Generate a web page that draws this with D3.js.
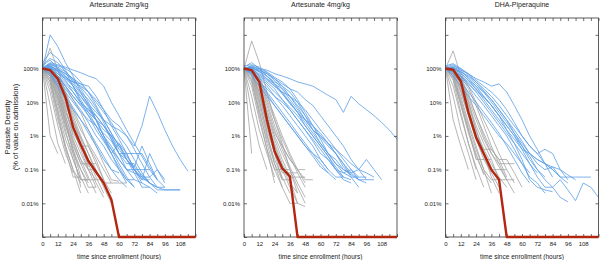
<!DOCTYPE html>
<html>
<head>
<meta charset="utf-8">
<script src="https://cdn.jsdelivr.net/npm/d3@7"></script>
<style>
  body { margin: 0; background: #fff; }
  text { font-family: "Liberation Sans", Arial, sans-serif; fill: #222; }
</style>
</head>
<body>
<svg id="chart" width="600" height="260"></svg>
<script>
// sampling times (hours since enrollment), one value per time in every series
const hours = [0, 6, 12, 18, 24, 30, 36, 42, 48, 54, 60, 66, 72, 78, 84, 90, 96, 102, 108, 114, 120];
const xTicks = [0, 6, 12, 18, 24, 30, 36, 42, 48, 54, 60, 66, 72, 78, 84, 90, 96, 102, 108, 114, 120];
const xTickLabels = [0, 12, 24, 36, 48, 60, 72, 84, 96, 108];
const yTicks = [0.001, 0.01, 0.1, 1, 10, 100, 1000];
const yTickLabels = { 100: "100%", 10: "10%", 1: "1%", 0.1: "0.1%", 0.01: "0.01%" };
const panelTitles = ["Artesunate 2mg/kg", "Artesunate 4mg/kg", "DHA-Piperaquine"];

// % of admission value; 0 = below detection (drawn on the bottom edge)
const median2mg = [100, 90, 50, 14, 1.8, 0.55, 0.18, 0.085, 0.04, 0.013, 0, 0, 0, 0, 0, 0, 0, 0, 0, 0, 0];
const median4mg = [100, 90, 40, 3, 0.35, 0.11, 0.063, 0, 0, 0, 0, 0, 0, 0, 0, 0, 0, 0, 0, 0, 0];
const medianDHA = [100, 92, 42, 5, 0.9, 0.3, 0.1, 0.05, 0, 0, 0, 0, 0, 0, 0, 0, 0, 0, 0, 0, 0];

const gray2mg = [
  [100, 1, 0.3],
  [100, 8, 0.6, 0.15],
  [100, 20, 2, 0.3, 0.08],
  [100, 30, 3, 0.5, 0.1, 0.04],
  [100, 40, 6, 0.8, 0.2, 0.05, 0.05],
  [100, 50, 8, 1.2, 0.3, 0.1, 0.04],
  [100, 60, 10, 2, 0.4, 0.1, 0.03, 0.03],
  [100, 70, 15, 3, 0.6, 0.15, 0.05],
  [100, 80, 20, 4, 0.8, 0.2, 0.06, 0.02],
  [100, 60, 12, 1.5, 0.2, 0.05, 0.05, 0.05],
  [100, 90, 30, 6, 1, 0.3, 0.1, 0.03],
  [100, 85, 25, 5, 1.5, 0.4, 0.1, 0.05, 0.05],
  [100, 95, 40, 10, 2, 0.5, 0.15, 0.04, 0.015],
  [100, 90, 35, 8, 2.5, 0.8, 0.2, 0.06, 0.02],
  [100, 100, 50, 15, 4, 1, 0.3, 0.1, 0.03, 0.01],
  [100, 70, 30, 4, 0.7, 0.2, 0.1, 0.1],
  [100, 50, 5, 0.5, 0.1, 0.02],
  [100, 40, 4, 0.4, 0.06, 0.06],
  [100, 75, 18, 2.5, 0.5, 0.15, 0.15, 0.15],
  [100, 95, 45, 12, 3, 0.9, 0.3, 0.08, 0.04, 0.04],
  [100, 110, 60, 20, 6, 2, 0.5, 0.15, 0.05, 0.02],
  [100, 80, 22, 3, 0.3, 0.03],
  [100, 65, 14, 2.2, 0.4, 0.06, 0.02],
  [100, 88, 28, 7, 1.2, 0.5, 0.5, 0.2, 0.05],
  [100, 100, 60, 30, 12, 5, 1.5, 0.5, 0.15, 0.05, 0.045],
  [100, 400, 90, 20, 3, 0.6, 0.12],
  [100, 90, 45, 15, 5, 1.5, 0.6, 0.25, 0.1, 0.04, 0.04, 0.04]
];
const blue2mg = [
  [100, 1000, 450, 150, 60, 20, 8, 3, 1, 0.4, 0.15, 0.06, 0.03],
  [100, 150, 130, 110, 90, 75, 60, 50, 30, 10, 4, 1.5, 0.6, 0.25, 0.1, 0.05],
  [120, 180, 100, 70, 50, 35, 20, 10, 5, 2.5, 1, 0.5, 0.2, 0.08, 0.04, 0.025, 0.025, 0.025, 0.025],
  [100, 130, 80, 50, 40, 35, 30, 15, 6, 3, 2, 1, 0.5, 2, 15, 5, 1.5, 0.5, 0.2, 0.09],
  [100, 120, 70, 40, 25, 15, 8, 4, 2, 1, 0.4, 0.2, 0.1, 0.05, 0.05],
  [100, 110, 60, 30, 15, 8, 4, 1.5, 0.7, 0.3, 0.12, 0.05, 0.03],
  [150, 300, 200, 90, 40, 20, 12, 6, 3, 1.2, 0.5, 0.25, 0.12, 0.07, 0.04, 0.03],
  [100, 100, 90, 60, 35, 18, 9, 5, 3, 2, 1.5, 1, 0.4, 0.15, 0.06, 0.03, 0.03],
  [100, 90, 50, 25, 12, 6, 2.5, 1, 0.5, 0.2, 0.1, 0.04],
  [110, 140, 100, 60, 30, 10, 4, 2, 0.8, 0.3, 0.6, 0.2, 0.08, 0.03, 0.03],
  [100, 80, 40, 20, 10, 5, 3, 2, 1.2, 0.7, 0.3, 0.15, 0.15, 0.06, 0.06, 0.1, 0.05],
  [100, 130, 110, 80, 50, 25, 10, 3, 1, 0.3, 0.1, 0.05, 0.05],
  [100, 95, 70, 50, 30, 15, 7, 3, 1.5, 1, 0.6, 0.3, 0.1, 0.04],
  [130, 200, 150, 80, 30, 12, 5, 2, 0.8, 0.4, 0.2, 0.1, 0.1, 0.1, 0.1],
  [100, 70, 35, 15, 7, 3, 1.5, 0.6, 0.25, 0.1, 0.05, 0.03],
  [100, 120, 90, 45, 20, 9, 6, 4, 2, 0.8, 0.3, 0.1, 0.08, 0.06, 0.04, 0.03, 0.025, 0.025, 0.025],
  [100, 110, 80, 55, 40, 30, 20, 12, 6, 2, 0.8, 0.3, 0.1, 0.06, 0.04],
  [100, 140, 120, 100, 70, 40, 20, 8, 3, 1.2, 0.5, 0.2, 0.1, 0.05, 0.3, 0.1, 0.04],
  [100, 60, 30, 12, 6, 3, 1.2, 0.5, 0.2, 0.1, 0.08],
  [100, 100, 60, 35, 20, 10, 6, 3, 1, 0.5, 0.2, 0.1, 0.05, 0.04, 0.03, 0.02],
  [100, 85, 55, 30, 15, 8, 5, 3, 2, 1, 0.3, 0.3, 0.3, 0.3, 0.12, 0.05],
  [100, 115, 95, 70, 45, 28, 15, 7, 2.5, 0.8, 0.3, 0.2, 0.12, 0.5, 0.15, 0.05, 0.03]
];

const gray4mg = [
  [100, 660, 150, 20, 3, 0.6, 0.1, 0.02],
  [100, 0.3],
  [100, 5, 0.5, 0.1],
  [100, 15, 1.5, 0.3, 0.06],
  [100, 30, 3, 0.4, 0.1, 0.03],
  [100, 40, 5, 0.8, 0.15, 0.05, 0.05],
  [100, 60, 8, 1, 0.2, 0.06, 0.02],
  [100, 70, 15, 2, 0.4, 0.1, 0.03, 0.01],
  [100, 80, 20, 3, 0.6, 0.15, 0.05, 0.01, 0.008],
  [100, 90, 30, 5, 1, 0.3, 0.1, 0.03, 0.01],
  [100, 50, 6, 0.6, 0.1, 0.1, 0.1],
  [100, 85, 25, 4, 0.8, 0.2, 0.06, 0.06, 0.06],
  [100, 95, 40, 8, 1.5, 0.4, 0.12, 0.04, 0.015],
  [100, 75, 12, 1.2, 0.15, 0.03, 0.01, 0.01],
  [100, 100, 50, 12, 3, 0.8, 0.25, 0.08, 0.03],
  [100, 65, 10, 1.5, 0.3, 0.08, 0.08, 0.08],
  [100, 90, 35, 6, 1.2, 0.5, 0.2, 0.1, 0.1],
  [100, 45, 4, 0.4, 0.04],
  [100, 80, 18, 2.5, 0.5, 0.12, 0.04, 0.02],
  [100, 95, 45, 10, 2, 0.5, 0.2, 0.1, 0.05, 0.05],
  [100, 70, 20, 2, 0.3, 0.05],
  [100, 110, 60, 15, 4, 1, 0.3, 0.1, 0.04]
];
const blue4mg = [
  [100, 110, 100, 90, 70, 60, 50, 40, 35, 30, 22, 16, 12, 5, 15, 9, 6, 4, 2.5, 1.5, 0.8],
  [100, 120, 90, 70, 50, 35, 25, 20, 12, 8, 4, 2, 1, 0.5, 0.2, 0.1, 0.05],
  [100, 100, 80, 50, 30, 20, 15, 10, 6, 3, 1.5, 0.8, 0.4, 0.2, 0.1, 0.06, 0.06],
  [100, 90, 60, 40, 25, 12, 6, 3, 1.5, 0.8, 0.4, 0.2, 0.1, 0.05, 0.04],
  [110, 150, 100, 60, 35, 20, 10, 5, 2, 1, 0.5, 0.25, 0.1, 0.06, 0.05],
  [100, 95, 70, 50, 35, 25, 15, 8, 4, 2, 1, 0.6, 0.3, 0.15, 0.08, 0.05, 0.05, 0.05],
  [100, 80, 50, 30, 15, 8, 4, 2, 1, 0.5, 0.2, 0.1, 0.06, 0.06],
  [100, 100, 90, 70, 45, 25, 12, 6, 3, 1.5, 0.9, 0.5, 0.3, 0.15, 0.06, 0.03],
  [100, 85, 45, 20, 10, 5, 2.5, 1.2, 0.6, 0.3, 0.15, 0.08, 0.05],
  [120, 130, 110, 80, 55, 40, 25, 12, 5, 2, 0.8, 0.3, 0.15, 0.08, 0.06, 0.06],
  [100, 70, 40, 25, 15, 10, 6, 3, 1.5, 0.7, 0.3, 0.2, 0.1, 0.08, 0.1, 0.05],
  [100, 110, 80, 60, 40, 30, 20, 10, 4, 1.5, 0.6, 0.3, 0.2, 0.1, 0.08, 0.1, 0.2, 0.1, 0.05],
  [100, 90, 65, 45, 30, 18, 10, 5, 2.5, 1.2, 0.6, 0.3, 0.15, 0.1, 0.07],
  [100, 75, 40, 18, 8, 4, 2, 1, 0.5, 0.25, 0.12, 0.08],
  [100, 105, 85, 60, 35, 18, 9, 5, 3, 2, 1.2, 0.6, 0.3, 0.12, 0.07, 0.05, 0.04],
  [100, 60, 30, 15, 8, 4, 2, 1, 0.5, 0.3, 0.2, 0.1],
  [100, 120, 100, 75, 50, 30, 15, 7, 3, 1.5, 1, 0.6, 0.4, 0.25, 0.15, 0.1, 0.08, 0.06],
  [100, 80, 55, 35, 20, 12, 7, 4, 2, 1, 0.5, 0.25, 0.12, 0.06]
];

const grayDHA = [
  [100, 335, 60, 10, 1.5, 0.3, 0.06, 0.02],
  [100, 3, 0.5, 0.1],
  [100, 15, 1.5, 0.3, 0.05],
  [100, 30, 4, 0.6, 0.12, 0.03],
  [100, 50, 8, 1.2, 0.25, 0.08, 0.04],
  [100, 65, 12, 2, 0.4, 0.1, 0.05, 0.05],
  [100, 80, 20, 4, 0.8, 0.2, 0.08, 0.03],
  [100, 90, 35, 8, 1.5, 0.4, 0.15, 0.06, 0.03],
  [100, 95, 45, 12, 3, 0.8, 0.3, 0.12, 0.05, 0.02],
  [100, 60, 10, 1.5, 0.2, 0.2, 0.2],
  [100, 85, 30, 6, 1.2, 0.3, 0.1, 0.1, 0.1],
  [100, 100, 55, 18, 4, 1, 0.3, 0.15, 0.15, 0.15],
  [100, 70, 15, 2.5, 0.5, 0.1, 0.02],
  [100, 45, 5, 0.6, 0.1],
  [100, 90, 40, 10, 2, 0.6, 0.2, 0.05, 0.05, 0.05],
  [100, 75, 22, 4, 0.8, 0.25, 0.08],
  [100, 100, 60, 25, 8, 2, 0.5, 0.15, 0.05],
  [100, 80, 25, 5, 1, 0.4, 0.4, 0.2, 0.06],
  [100, 55, 9, 1.5, 0.3, 0.07],
  [100, 95, 50, 15, 4, 1.2, 0.4, 0.2, 0.2, 0.08, 0.03],
  [100, 110, 70, 30, 10, 3, 1, 0.3, 0.1, 0.04]
];
const blueDHA = [
  [100, 110, 90, 70, 50, 40, 30, 35, 20, 8, 3, 1, 0.4, 0.15, 0.06],
  [100, 120, 100, 70, 45, 30, 20, 12, 6, 2.5, 1, 0.5, 0.3, 0.15, 0.1, 0.06, 0.06, 0.06, 0.06, 0.06],
  [100, 90, 60, 40, 25, 15, 8, 4, 2, 1, 0.4, 0.15, 0.06, 0.03, 0.03, 0.05, 0.025, 0.012, 0.04, 0.03, 0.015],
  [100, 100, 70, 45, 30, 20, 12, 6, 3, 1.2, 0.5, 0.2, 0.1, 0.05, 0.03, 0.015, 0.011],
  [110, 130, 90, 50, 30, 15, 8, 4, 1.5, 0.6, 0.2, 0.05, 0.03, 0.025, 0.022],
  [100, 80, 50, 30, 15, 8, 4, 2, 1, 0.4, 0.15, 0.06, 0.04, 0.02],
  [100, 110, 80, 60, 40, 25, 15, 8, 4, 2, 1, 0.5, 0.3, 0.4, 0.3, 0.1, 0.05],
  [100, 95, 60, 35, 20, 10, 5, 2.5, 1.2, 0.6, 0.3, 0.15, 0.08],
  [120, 140, 100, 65, 40, 22, 12, 6, 3, 1.5, 0.7, 0.3, 0.2, 0.15, 0.1, 0.06, 0.04],
  [100, 70, 40, 20, 10, 5, 2.5, 1.2, 0.5, 0.2, 0.08, 0.04],
  [100, 100, 80, 55, 35, 20, 10, 5, 2.5, 1.2, 0.6, 0.3, 0.15, 0.1, 0.12, 0.06],
  [100, 85, 55, 35, 22, 14, 8, 4, 2, 1, 0.5, 0.25, 0.1, 0.06],
  [100, 60, 30, 15, 8, 4, 2, 1, 0.6, 0.3, 0.15, 0.08],
  [100, 105, 75, 45, 25, 12, 6, 3, 1.5, 0.8, 0.4, 0.3, 0.2, 0.15, 0.12, 0.1, 0.07, 0.05]
];

const panels = [
  { title: panelTitles[0], gray: gray2mg, blue: blue2mg, median: median2mg },
  { title: panelTitles[1], gray: gray4mg, blue: blue4mg, median: median4mg },
  { title: panelTitles[2], gray: grayDHA, blue: blueDHA, median: medianDHA }
];

const svg = d3.select("#chart");
const lefts = [42.5, 244, 445.5];
const plotW = 153, plotTop = 18, plotH = 219;

const x = d3.scaleLinear().domain([0, 120]).range([0, plotW]);
const y = d3.scaleLog().domain([0.001, Math.pow(10, 3.5)]).range([plotH, 0]);

const line = d3.line()
  .x((d, i) => x(hours[i]))
  .y(d => d > 0 ? y(d) : y(0.001));

panels.forEach((p, k) => {
  const g = svg.append("g").attr("transform", `translate(${lefts[k]},${plotTop})`);

  g.selectAll(".gray").data(p.gray).enter().append("path")
    .attr("d", line)
    .attr("fill", "none")
    .attr("stroke", "#a3a3a3")
    .attr("stroke-width", 0.8);

  g.selectAll(".blue").data(p.blue).enter().append("path")
    .attr("d", line)
    .attr("fill", "none")
    .attr("stroke", "#5b9ee6")
    .attr("stroke-width", 0.8);

  // axes with inward ticks
  const bottom = g.append("g").attr("transform", `translate(0,${plotH})`)
    .call(d3.axisBottom(x).tickValues(xTicks).tickSize(-3).tickPadding(5)
      .tickFormat(d => xTickLabels.includes(d) ? d : ""));
  const top = g.append("g")
    .call(d3.axisTop(x).tickValues(xTicks).tickSize(-3).tickFormat(""));
  const left = g.append("g")
    .call(d3.axisLeft(y).tickValues(yTicks).tickSize(-3).tickPadding(4)
      .tickFormat(d => yTickLabels[d] || ""));
  const right = g.append("g").attr("transform", `translate(${plotW},0)`)
    .call(d3.axisRight(y).tickValues(yTicks).tickSize(-3).tickFormat(""));

  [bottom, top, left, right].forEach(a => {
    a.select(".domain").remove();
    a.selectAll("line").attr("stroke", "#333").attr("stroke-width", 0.7);
    a.selectAll("text").attr("font-size", 6).attr("fill", "#222");
  });

  g.append("rect")
    .attr("width", plotW).attr("height", plotH)
    .attr("fill", "none").attr("stroke", "#333").attr("stroke-width", 0.8);

  g.append("path")
    .attr("d", line(p.median))
    .attr("fill", "none")
    .attr("stroke", "#b3270f")
    .attr("stroke-width", 2.4)
    .attr("stroke-linejoin", "round");

  g.append("text")
    .attr("x", plotW / 2).attr("y", -11)
    .attr("text-anchor", "middle")
    .attr("font-size", 7)
    .text(p.title);

  g.append("text")
    .attr("x", plotW / 2).attr("y", plotH + 21.5)
    .attr("text-anchor", "middle")
    .attr("font-size", 6.5)
    .text("time since enrollment (hours)");
});

const yl = svg.append("text")
  .attr("transform", "translate(9.5,127) rotate(-90)")
  .attr("text-anchor", "middle")
  .attr("font-size", 7.5);
yl.append("tspan").attr("x", 0).attr("dy", 0).text("Parasite Density");
yl.append("tspan").attr("x", 0).attr("dy", "1.1em").text("(% of value on admission)");
</script>
</body>
</html>
